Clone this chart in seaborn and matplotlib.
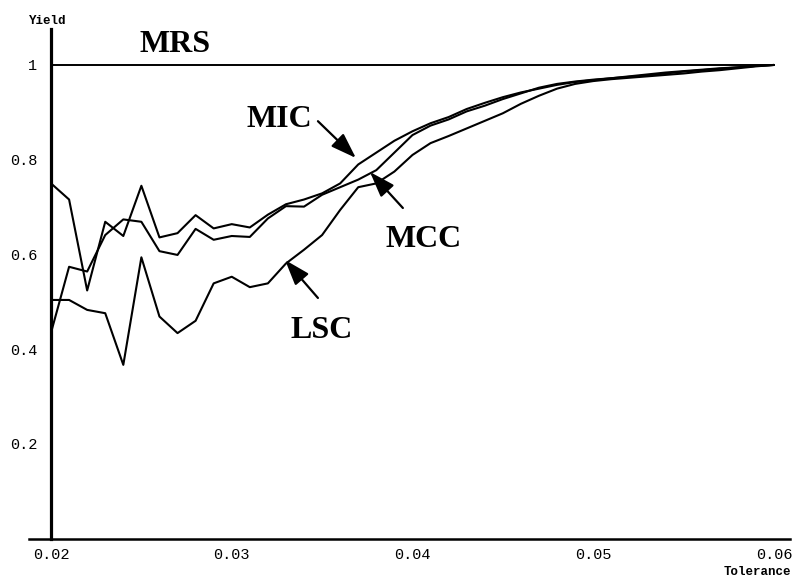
import matplotlib
matplotlib.use("Agg")
import matplotlib.pyplot as plt
import seaborn as sns
import pandas as pd

# ---------------- data ----------------
tolerance = [0.020, 0.021, 0.022, 0.023, 0.024, 0.025, 0.026, 0.027, 0.028, 0.029,
             0.030, 0.031, 0.032, 0.033, 0.034, 0.035, 0.036, 0.037, 0.038, 0.039,
             0.040, 0.041, 0.042, 0.043, 0.044, 0.045, 0.046, 0.047, 0.048, 0.049,
             0.050, 0.051, 0.052, 0.053, 0.054, 0.055, 0.056, 0.057, 0.058, 0.059,
             0.060]

mic = [0.750, 0.716, 0.524, 0.669, 0.639, 0.745, 0.636, 0.645, 0.683, 0.655,
       0.664, 0.657, 0.684, 0.706, 0.716, 0.729, 0.750, 0.790, 0.815, 0.840,
       0.860, 0.877, 0.890, 0.907, 0.920, 0.932, 0.942, 0.950, 0.958, 0.964,
       0.968, 0.972, 0.976, 0.980, 0.984, 0.987, 0.990, 0.993, 0.995, 0.998,
       1.000]

mcc = [0.435, 0.574, 0.564, 0.641, 0.674, 0.669, 0.607, 0.599, 0.654, 0.631,
       0.639, 0.637, 0.676, 0.702, 0.701, 0.726, 0.742, 0.758, 0.778, 0.815,
       0.852, 0.872, 0.885, 0.902, 0.914, 0.928, 0.940, 0.952, 0.960, 0.965,
       0.969, 0.972, 0.975, 0.978, 0.982, 0.986, 0.989, 0.992, 0.995, 0.998,
       1.000]

lsc = [0.504, 0.504, 0.483, 0.476, 0.367, 0.594, 0.469, 0.434, 0.460, 0.539,
       0.553, 0.531, 0.539, 0.581, 0.610, 0.641, 0.694, 0.742, 0.750, 0.775,
       0.810, 0.835, 0.850, 0.866, 0.882, 0.898, 0.918, 0.935, 0.950, 0.960,
       0.966, 0.970, 0.973, 0.976, 0.979, 0.982, 0.986, 0.989, 0.993, 0.997,
       1.000]

mrs_x = [0.020, 0.060]
mrs_y = [1.0, 1.0]

x_ticks = [0.02, 0.03, 0.04, 0.05, 0.06]
x_tick_labels = ["0.02", "0.03", "0.04", "0.05", "0.06"]
y_ticks = [0.2, 0.4, 0.6, 0.8, 1.0]
y_tick_labels = ["0.2", "0.4", "0.6", "0.8", "1"]

# ---------------- figure ----------------
sns.set_style("white")
plt.rcParams["font.family"] = ["Liberation Mono", "DejaVu Sans Mono"]
plt.rcParams["text.color"] = "black"
plt.rcParams["xtick.color"] = "black"
plt.rcParams["ytick.color"] = "black"

fig = plt.figure(figsize=(7.95, 5.85), dpi=100)
ax = fig.add_axes([0.0369, 0.0791, 0.957, 0.8714])

df = pd.DataFrame({
    "tol": tolerance * 3,
    "yield": mic + mcc + lsc,
    "method": ["MIC"] * len(mic) + ["MCC"] * len(mcc) + ["LSC"] * len(lsc),
})
sns.lineplot(data=df, x="tol", y="yield", hue="method", estimator=None,
             palette={"MIC": "black", "MCC": "black", "LSC": "black"},
             legend=False, linewidth=1.5, ax=ax)
sns.lineplot(x=mrs_x, y=mrs_y, color="black", linewidth=1.4, ax=ax)

ax.set_xlim(0.0188, 0.0609)
ax.set_ylim(0.0, 1.076)

for s in ["top", "right"]:
    ax.spines[s].set_visible(False)
ax.spines["left"].set_position(("data", 0.02))
ax.spines["bottom"].set_position(("data", 0.0))
ax.spines["left"].set_linewidth(2.3)
ax.spines["bottom"].set_linewidth(1.8)
ax.spines["left"].set_color("black")
ax.spines["bottom"].set_color("black")

ax.set_xticks(x_ticks)
ax.set_xticklabels(x_tick_labels)
ax.set_xticks([0.022, 0.024, 0.026, 0.028, 0.032, 0.034, 0.036, 0.038,
               0.042, 0.044, 0.046, 0.048, 0.052, 0.054, 0.056, 0.058], minor=True)
ax.set_yticks(y_ticks)
ax.set_yticklabels(y_tick_labels)
ax.set_yticks([0.04, 0.08, 0.12, 0.16, 0.24, 0.28, 0.32, 0.36, 0.44, 0.48,
               0.52, 0.56, 0.64, 0.68, 0.72, 0.76, 0.84, 0.88, 0.92, 0.96,
               1.04], minor=True)
ax.tick_params(axis="both", which="major", direction="in", length=4.5, width=1.3,
               labelsize=11, colors="black")
ax.tick_params(axis="both", which="minor", direction="in", length=2.5, width=1.0,
               colors="black")
ax.tick_params(axis="x", which="major", pad=7)
ax.tick_params(axis="y", which="major", pad=10)
ax.set_xlabel("")
ax.set_ylabel("")
ax.grid(False)

# axis titles
ax.text(0.01983, 1.093, "Yield", fontsize=9, fontweight="bold", color="black",
        ha="center", va="center", clip_on=False)
fig.text(791 / 795, 1 - 572 / 585, "Tolerance", fontsize=9, fontweight="bold",
         color="black", ha="right", va="center")

# curve labels
serif = ["Liberation Serif", "DejaVu Serif"]
lab_kw = dict(fontsize=23, fontweight="bold", family=serif, color="black",
              ha="center", va="baseline")
ax.text(0.02686, 1.0274, "MRS", **lab_kw)
ax.text(0.03261, 0.869, "MIC", **lab_kw)
ax.text(0.04064, 0.6153, "MCC", **lab_kw)
ax.text(0.0350, 0.4237, "LSC", **lab_kw)

arrow = dict(arrowstyle="-|>,head_length=1.3,head_width=0.45", color="black",
             lw=1.6, shrinkA=0, shrinkB=0, mutation_scale=12)
ax.annotate("", xy=(0.03687, 0.8037), xytext=(0.03477, 0.8813), arrowprops=arrow)
ax.annotate("", xy=(0.03765, 0.7741), xytext=(0.03947, 0.6981), arrowprops=arrow)
ax.annotate("", xy=(0.03295, 0.5884), xytext=(0.03477, 0.5082), arrowprops=arrow)

fig.savefig("out.png", dpi=100)
